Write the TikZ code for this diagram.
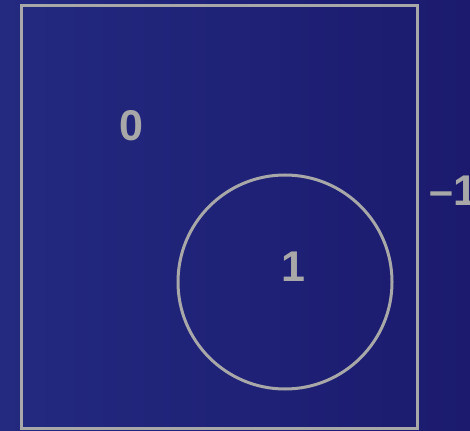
\documentclass[tikz,border=0pt]{standalone}
\usepackage{fontspec}
\setmainfont{Liberation Sans}
\definecolor{bgl}{HTML}{232A80}
\definecolor{bgr}{HTML}{1B1A6E}
\definecolor{ln}{HTML}{A8A8A8}
\tikzset{
  outl/.style={draw=ln, line width=3pt},
  lbl/.style={text=ln, font=\bfseries\fontsize{43}{43}\selectfont, inner sep=0pt}
}
\begin{document}
\begin{tikzpicture}[x=1pt,y=-1pt]
\shade[left color=bgl, right color=bgr] (0,0) rectangle (470,430);
\useasboundingbox (0,0) rectangle (470,430);
\draw[outl] (21,5.5) rectangle (417.5,428.5);
\node[outl, circle, minimum size=214pt, inner sep=0pt] (c) at (285,282) {};
\node[lbl] (n0) at (131.5,125.5) {0};
\node[lbl] (n1) at (293,267) {1};
\node[lbl, anchor=west] (nm) at (429,191) {–1};
\end{tikzpicture}
\end{document}
